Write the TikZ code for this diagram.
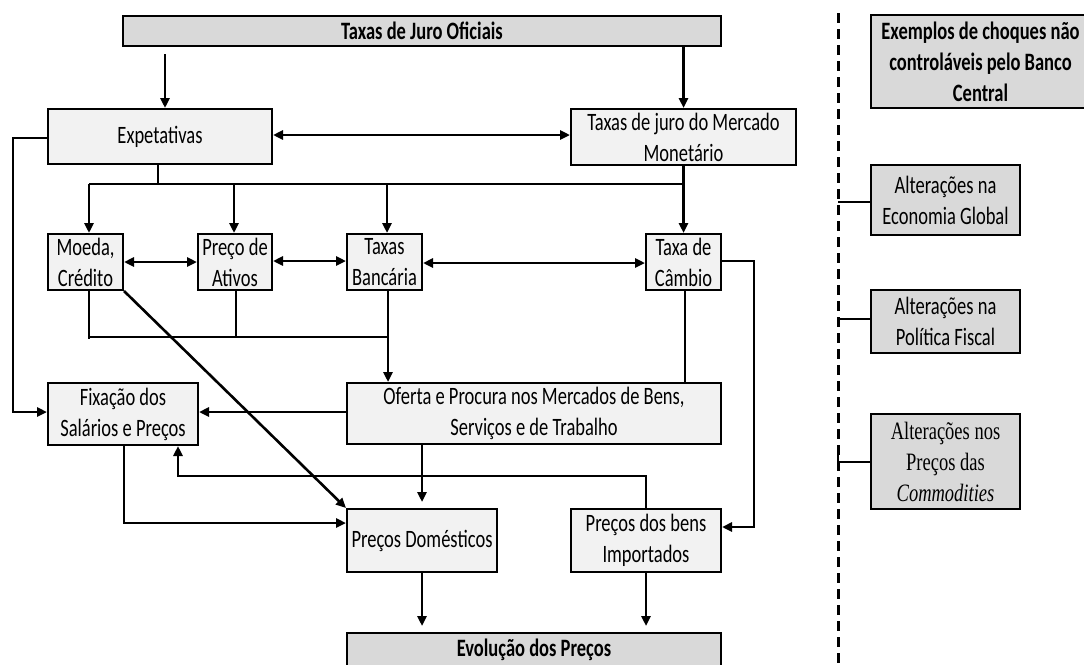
\documentclass[tikz,border=0pt]{standalone}
\usepackage{fontspec}
\setmainfont{Carlito}[FakeStretch=0.74]
\newfontfamily\tms{Liberation Serif}[FakeStretch=0.74]
\usetikzlibrary{arrows.meta,calc}
\definecolor{dk}{HTML}{D9D9D9}
\definecolor{lt}{HTML}{F2F2F2}
\newcommand\bx[7]{\node[#2, minimum width={(#5-#3)*1pt}, minimum height={(#6-#4)*1pt}] (#1) at ({(#3+#5)/2},{(#4+#6)/2}) {#7};}
\tikzset{
  box/.style={draw=black, line width=2pt, inner sep=0pt, align=center, font=\fontsize{25}{31}\selectfont},
  lbox/.style={box, fill=lt},
  dbox/.style={box, fill=dk},
  con/.style={line width=2.6pt},
  arr/.style={con, -{Triangle[length=10pt,width=9pt]}},
  darr/.style={con, {Triangle[length=10pt,width=9pt]}-{Triangle[length=10pt,width=9pt]}},
  gap/.style={shorten >=6pt}
}
\begin{document}
\begin{tikzpicture}[x=1pt,y=-1pt]
\useasboundingbox (0,0) rectangle (1084,664);
% boxes
\bx{top}{dbox}{123}{16}{721}{46}{\bfseries Taxas de Juro Oficiais}
\bx{exp}{lbox}{48}{109}{272}{164}{Expetativas}
\bx{mm}{lbox}{571}{109}{796}{165}{Taxas de juro do Mercado\\Monetário}
\bx{moeda}{lbox}{48}{234}{123}{290}{Moeda,\\Crédito}
\bx{ativos}{lbox}{198}{234}{272}{290}{Preço de\\Ativos}
\bx{banc}{lbox}{347}{234}{422}{290}{Taxas\\Bancária}
\bx{camb}{lbox}{646}{234}{721}{290}{Taxa de\\Câmbio}
\bx{fix}{lbox}{48}{383}{198}{445}{Fixação dos\\Salários e Preços}
\bx{oferta}{lbox}{347}{383}{721}{444}{Oferta e Procura nos Mercados de Bens,\\Serviços e de Trabalho}
\bx{dom}{lbox}{347}{509}{497}{572}{Preços Domésticos}
\bx{imp}{lbox}{571}{509}{721}{572}{Preços dos bens\\Importados}
\bx{evo}{dbox}{347}{633}{721}{667}{\bfseries Evolução dos Preços}
\bx{exem}{dbox}{871}{15}{1090}{108}{\bfseries Exemplos de choques não\\\bfseries controláveis pelo Banco\\\bfseries Central}
\bx{glob}{dbox}{871}{165}{1020}{235}{Alterações na\\Economia Global}
\bx{fisc}{dbox}{871}{290}{1020}{353}{Alterações na\\Política Fiscal}
\bx{comm}{dbox}{871}{414}{1020}{509}{\tms Alterações nos\\\tms Preços das\\\tms\itshape Commodities}
% coordinates
\coordinate (a1) at (165,54);
\coordinate (b0) at (158,184);
\coordinate (bL) at (89,184);
\coordinate (bR) at (684,184);
\coordinate (c0) at (89,337);
\coordinate (c1) at (236,337);
\coordinate (c2) at (388,337);
\coordinate (r1) at (754,527);
\coordinate (l1) at (13,412);
\coordinate (f1) at (124,523);
\coordinate (f2) at (178,476);
% top level
\draw[arr] (a1) -- (a1 |- exp.north);
\draw[arr] (top.south -| mm.north) -- (mm.north);
\draw[darr] (exp.east |- 0,135) -- (mm.west |- 0,135);
% bus from expectations
\draw[con] (exp.south -| b0) -- (b0);
\draw[con] (bL) -- (bR);
\draw[arr] (mm.south -| camb.north) -- (camb.north);
\draw[arr] (bL) -- (moeda.north -| bL);
\draw[arr] (234,184) -- (ativos.north -| 234,0);
\draw[arr] (387,184) -- (banc.north -| 387,0);
% row arrows
\draw[darr] (moeda.east |- 0,262) -- (ativos.west |- 0,262);
\draw[darr] (ativos.east |- 0,261) -- (banc.west |- 0,261);
\draw[darr] (banc.east |- 0,263) -- (camb.west |- 0,263);
% lower bus
\draw[con] (moeda.south -| c0) -- ($(c0)+(0,2)$);
\draw[con] (ativos.south -| c1) -- (c1);
\draw[con] (banc.south -| c2) -- (c2);
\draw[con] (c0) -- (c2);
\draw[arr] (c2) -- (oferta.north -| c2);
\draw[con] (camb.south -| 685,0) -- (oferta.north -| 685,0);
\draw[arr] (camb.east |- 0,261) -| (r1) -- (imp.east |- r1);
% to wages
\draw[arr] (oferta.west |- l1) -- (fix.east |- l1);
\draw[arr] (exp.west |- 0,138) -| (l1) -- (fix.west |- l1);
% to domestic prices
\draw[arr] (moeda.south east) -- (dom.north west);
\draw[arr] (fix.south -| f1) -- (f1) -- (dom.west |- f1);
\draw[arr] (imp.north) |- (f2) -- (fix.south -| f2);
\draw[arr,gap] (oferta.south -| dom.north) -- (dom.north);
\draw[arr,gap] (dom.south) -- (evo.north -| dom.south);
\draw[arr,gap] (imp.south) -- (evo.north -| imp.south);
% shocks panel
\coordinate (d0) at (838,13);
\coordinate (d1) at (838,664);
\draw[line width=3pt, dash pattern=on 10pt off 6pt] (d0) -- (d1);
\draw[con] (838,202) -- (glob.west |- 0,202);
\draw[con] (838,319) -- (fisc.west |- 0,319);
\draw[con] (838,447) |- (comm.west |- 0,462);
\end{tikzpicture}
\end{document}
